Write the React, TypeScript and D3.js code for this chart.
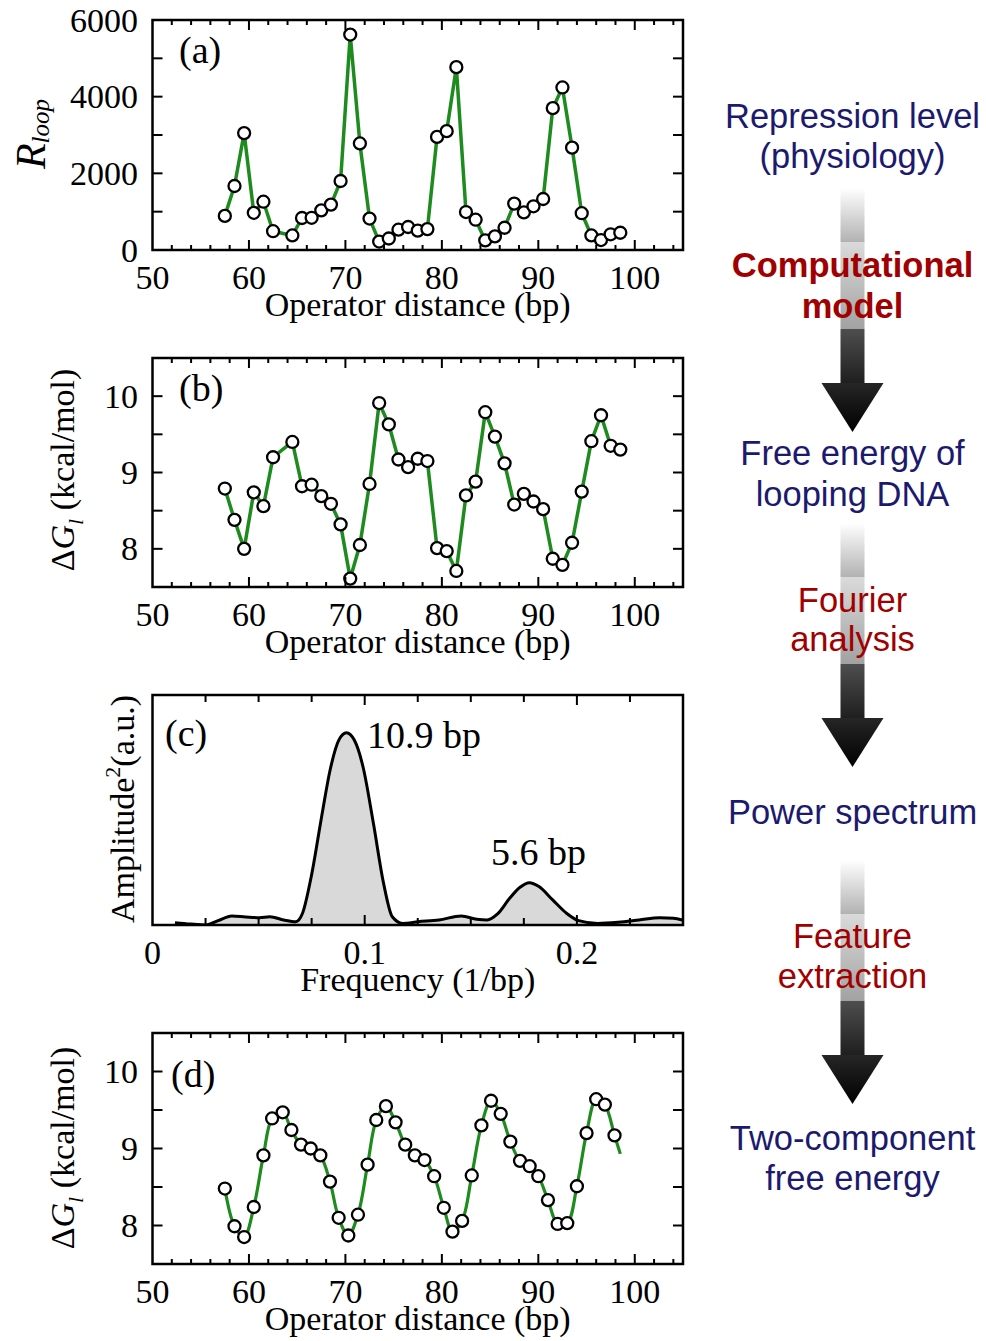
import React, { useEffect, useRef } from "react";
import * as d3 from "d3";

// operator distances (bp) for panels (a) and (b); 63.5 is missing in the data
const distances = [
  57.5, 58.5, 59.5, 60.5, 61.5, 62.5, 64.5, 65.5, 66.5, 67.5, 68.5, 69.5, 70.5, 71.5,
  72.5, 73.5, 74.5, 75.5, 76.5, 77.5, 78.5, 79.5, 80.5, 81.5, 82.5, 83.5, 84.5, 85.5,
  86.5, 87.5, 88.5, 89.5, 90.5, 91.5, 92.5, 93.5, 94.5, 95.5, 96.5, 97.5, 98.5,
];

// (a) repression level
const rLoop = [
  890, 1670, 3050, 970, 1260, 490, 380, 835, 840, 1035, 1185, 1800, 5620, 2780,
  820, 220, 300, 530, 600, 505, 545, 2950, 3100, 4770, 990, 790, 250, 355,
  580, 1210, 980, 1140, 1330, 3700, 4240, 2670, 960, 380, 260, 410, 450,
];

// (b) free energy of looping, kcal/mol
const dGloop = [
  8.79, 8.38, 8.0, 8.74, 8.56, 9.2, 9.4, 8.82, 8.84, 8.69, 8.59, 8.32, 7.61, 8.05,
  8.85, 9.91, 9.63, 9.17, 9.07, 9.18, 9.15, 8.01, 7.97, 7.71, 8.7, 8.88, 9.79, 9.47,
  9.12, 8.58, 8.72, 8.62, 8.52, 7.87, 7.79, 8.08, 8.75, 9.41, 9.75, 9.35, 9.3,
];

// (c) power spectrum
const freq = [
  0.0106, 0.0179, 0.0252, 0.0309, 0.0374, 0.0439, 0.0504, 0.0553, 0.0618, 0.0675,
  0.0707, 0.0748, 0.0797, 0.0837, 0.0878, 0.0914, 0.0951, 0.0992, 0.1041, 0.1089,
  0.113, 0.1179, 0.1252, 0.135, 0.1455, 0.1528, 0.1577, 0.1626, 0.1683, 0.1732,
  0.1776, 0.1821, 0.1886, 0.1951, 0.2008, 0.2098, 0.2195, 0.2293, 0.239, 0.2455, 0.2496,
];
const power = [
  0.01, 0.004, 0.0, 0.019, 0.039, 0.035, 0.032, 0.036, 0.022, 0.014,
  0.051, 0.21, 0.471, 0.674, 0.804, 0.836, 0.804, 0.688, 0.442, 0.181,
  0.036, 0.007, 0.014, 0.022, 0.039, 0.025, 0.022, 0.048, 0.116, 0.164,
  0.184, 0.167, 0.109, 0.051, 0.019, 0.007, 0.012, 0.022, 0.032, 0.029, 0.022,
];

// (d) two-component free energy
const fitDist = [
  57.5, 58.5, 59.5, 60.5, 61.5, 62.4, 63.5, 64.4, 65.4, 66.4, 67.4, 68.4, 69.3, 70.3,
  71.3, 72.3, 73.2, 74.2, 75.2, 76.2, 77.2, 78.2, 79.2, 80.2, 81.1, 82.1, 83.1, 84.1,
  85.1, 86.1, 87.1, 88.1, 89.1, 90.0, 91.0, 92.0, 93.0, 94.0, 95.0, 96.0, 96.9, 97.9,
];
const dGfit = [
  8.48, 7.99, 7.85, 8.24, 8.91, 9.39, 9.47, 9.24, 9.05, 9.0, 8.91, 8.57, 8.1, 7.87,
  8.14, 8.79, 9.37, 9.55, 9.34, 9.05, 8.91, 8.85, 8.64, 8.23, 7.92, 8.06, 8.65, 9.3,
  9.62, 9.45, 9.09, 8.84, 8.77, 8.64, 8.33, 8.02, 8.03, 8.51, 9.2, 9.64, 9.57, 9.17,
];
const fitTailDist = 98.5;
const fitTailValue = 8.93;

const distTicks = [50, 60, 70, 80, 90, 100];
const rLoopTicks = [0, 2000, 4000, 6000];
const dGTicks = [8, 9, 10];
const freqTicks = [0, 0.1, 0.2];

const SERIF = "'Liberation Serif', 'Times New Roman', serif";
const SANS = "'Liberation Sans', Arial, sans-serif";
const GREEN = "#1e8b1e";
const NAVY = "#1c1a6e";
const DARKRED = "#a00000";

const L = 152.5;
const R = 683;

export default function App() {
  const svgRef = useRef<SVGSVGElement>(null);

  useEffect(() => {
    const svg = d3.select(svgRef.current);
    svg.selectAll("*").remove();

    const defs = svg.append("defs");

    // frame + inward ticks on all four sides
    const drawFrame = (top, bottom, x, y, xt, yt) => {
      const g = svg.append("g");
      xt.forEach(([v, len]) => {
        g.append("line").attr("x1", x(v)).attr("x2", x(v)).attr("y1", bottom).attr("y2", bottom - len)
          .attr("stroke", "#000").attr("stroke-width", 2);
        g.append("line").attr("x1", x(v)).attr("x2", x(v)).attr("y1", top).attr("y2", top + len)
          .attr("stroke", "#000").attr("stroke-width", 2);
      });
      yt.forEach(([v, len]) => {
        g.append("line").attr("x1", L).attr("x2", L + len).attr("y1", y(v)).attr("y2", y(v))
          .attr("stroke", "#000").attr("stroke-width", 2);
        g.append("line").attr("x1", R).attr("x2", R - len).attr("y1", y(v)).attr("y2", y(v))
          .attr("stroke", "#000").attr("stroke-width", 2);
      });
      g.append("rect").attr("x", L).attr("y", top).attr("width", R - L).attr("height", bottom - top)
        .attr("fill", "none").attr("stroke", "#000").attr("stroke-width", 2.5);
    };

    const xLabels = (bottom, x, ticks, fmt, title) => {
      ticks.forEach((t) => {
        svg.append("text").attr("x", x(t)).attr("y", bottom + 38.5).attr("text-anchor", "middle")
          .attr("font-family", SERIF).attr("font-size", 34).text(fmt(t));
      });
      svg.append("text").attr("x", (L + R) / 2).attr("y", bottom + 66).attr("text-anchor", "middle")
        .attr("font-family", SERIF).attr("font-size", 34).text(title);
    };

    const yLabels = (y, ticks) => {
      ticks.forEach((t) => {
        svg.append("text").attr("x", 138).attr("y", y(t) + 11.5).attr("text-anchor", "end")
          .attr("font-family", SERIF).attr("font-size", 34).text(t);
      });
    };

    const panelTag = (x, yb, s) => {
      svg.append("text").attr("x", x).attr("y", yb).attr("font-family", SERIF).attr("font-size", 38).text(s);
    };

    const distTickSet = d3.range(52, 105, 2).map((v) => [v, v % 10 === 0 ? 10 : 5]);

    const dots = (x, y, xs, ys) => {
      svg.append("g").selectAll("circle").data(xs).enter().append("circle")
        .attr("cx", (d) => x(d)).attr("cy", (d, i) => y(ys[i])).attr("r", 6)
        .attr("fill", "#fff").attr("stroke", "#000").attr("stroke-width", 2.3);
    };

    // ---------- (a) ----------
    {
      const top = 20, bottom = 250;
      const x = d3.scaleLinear().domain([50, 105]).range([L, R]);
      const y = d3.scaleLinear().domain([0, 6000]).range([bottom, top]);
      const line = d3.line().x((d) => x(d[0])).y((d) => y(d[1]));
      svg.append("path").attr("d", line(distances.map((d, i) => [d, rLoop[i]])))
        .attr("fill", "none").attr("stroke", GREEN).attr("stroke-width", 3.5).attr("stroke-linejoin", "round");
      dots(x, y, distances, rLoop);
      drawFrame(top, bottom, x, y, distTickSet, d3.range(1000, 6000, 1000).map((v) => [v, 10]));
      xLabels(bottom, x, distTicks, (d) => d, "Operator distance (bp)");
      yLabels(y, rLoopTicks);
      panelTag(179, 63, "(a)");
      const t = svg.append("text").attr("transform", "translate(45,134) rotate(-90)")
        .attr("text-anchor", "middle").attr("font-family", SERIF).attr("font-style", "italic");
      t.append("tspan").attr("font-size", 42).text("R");
      t.append("tspan").attr("font-size", 25).attr("dy", 4).text("loop");
    }

    const dGLabel = (cy) => {
      const t = svg.append("text").attr("transform", `translate(74,${cy}) rotate(-90)`)
        .attr("text-anchor", "middle").attr("font-family", SERIF).attr("font-size", 34);
      t.append("tspan").text("Δ");
      t.append("tspan").attr("font-style", "italic").text("G");
      t.append("tspan").attr("font-style", "italic").attr("font-size", 22).attr("dy", 9).text("l");
      t.append("tspan").attr("dy", -9).text(" (kcal/mol)");
    };

    // ---------- (b) ----------
    {
      const top = 358, bottom = 587;
      const x = d3.scaleLinear().domain([50, 105]).range([L, R]);
      const y = d3.scaleLinear().domain([7.5, 10.5]).range([bottom, top]);
      const line = d3.line().x((d) => x(d[0])).y((d) => y(d[1]));
      svg.append("path").attr("d", line(distances.map((d, i) => [d, dGloop[i]])))
        .attr("fill", "none").attr("stroke", GREEN).attr("stroke-width", 3.5).attr("stroke-linejoin", "round");
      dots(x, y, distances, dGloop);
      drawFrame(top, bottom, x, y, distTickSet, d3.range(8, 10.5, 0.5).map((v) => [v, 10]));
      xLabels(bottom, x, distTicks, (d) => d, "Operator distance (bp)");
      yLabels(y, dGTicks);
      panelTag(179, 401, "(b)");
      dGLabel(470);
    }

    // ---------- (c) ----------
    {
      const top = 695, bottom = 925;
      const x = d3.scaleLinear().domain([0, 0.25]).range([L, R]);
      const y = d3.scaleLinear().domain([0, 1]).range([bottom, top]);
      const pts = freq.map((f, i) => [f, power[i]]);
      defs.append("clipPath").attr("id", "clipC").append("rect")
        .attr("x", L).attr("y", top).attr("width", R - L).attr("height", bottom - top);
      const area = d3.area().x((d) => x(d[0])).y0(y(0)).y1((d) => y(d[1])).curve(d3.curveMonotoneX);
      const line = d3.line().x((d) => x(d[0])).y((d) => y(d[1])).curve(d3.curveMonotoneX);
      const g = svg.append("g").attr("clip-path", "url(#clipC)");
      g.append("path").attr("d", area(pts)).attr("fill", "#d9d9d9");
      g.append("path").attr("d", line(pts)).attr("fill", "none").attr("stroke", "#000").attr("stroke-width", 3);
      drawFrame(top, bottom, x, y, d3.range(0.025, 0.25, 0.025).map((v) => [v, Math.abs(v - 0.1) < 1e-6 || Math.abs(v - 0.2) < 1e-6 ? 10 : 7]), []);
      xLabels(bottom, x, freqTicks, (d) => (d === 0 ? "0" : d3.format(".1f")(d)), "Frequency (1/bp)");
      panelTag(165, 746, "(c)");
      svg.append("text").attr("x", 367).attr("y", 748).attr("font-family", SERIF).attr("font-size", 38).text("10.9 bp");
      svg.append("text").attr("x", 491).attr("y", 865).attr("font-family", SERIF).attr("font-size", 38).text("5.6 bp");
      const t = svg.append("text").attr("transform", "translate(134,809) rotate(-90)")
        .attr("text-anchor", "middle").attr("font-family", SERIF).attr("font-size", 34);
      t.append("tspan").text("Amplitude");
      t.append("tspan").attr("font-size", 22).attr("dy", -14).text("2");
      t.append("tspan").attr("dy", 14).text("(a.u.)");
    }

    // ---------- (d) ----------
    {
      const top = 1033, bottom = 1264;
      const x = d3.scaleLinear().domain([50, 105]).range([L, R]);
      const y = d3.scaleLinear().domain([7.5, 10.5]).range([bottom, top]);
      const pts = fitDist.map((d, i) => [d, dGfit[i]]).concat([[fitTailDist, fitTailValue]]);
      const line = d3.line().x((d) => x(d[0])).y((d) => y(d[1])).curve(d3.curveCatmullRom);
      svg.append("path").attr("d", line(pts))
        .attr("fill", "none").attr("stroke", GREEN).attr("stroke-width", 3.2);
      dots(x, y, fitDist, dGfit);
      drawFrame(top, bottom, x, y, distTickSet, d3.range(8, 10.5, 0.5).map((v) => [v, 10]));
      xLabels(bottom, x, distTicks, (d) => d, "Operator distance (bp)");
      yLabels(y, dGTicks);
      panelTag(171, 1087, "(d)");
      dGLabel(1148);
    }

    // ---------- right-hand flow ----------
    const CX = 852.5;
    const grad = (id, c0, c1) => {
      const lg = defs.append("linearGradient").attr("id", id).attr("x1", 0).attr("y1", 0).attr("x2", 0).attr("y2", 1);
      lg.append("stop").attr("offset", 0).attr("stop-color", c0);
      lg.append("stop").attr("offset", 1).attr("stop-color", c1);
    };
    grad("gA", "#ffffff", "#b2b2b2");
    grad("gB", "#dadada", "#a2a2a2");
    grad("gC", "#4e4e4e", "#1e1e1e");
    grad("gH", "#262626", "#000000");

    const arrowTops = [188, 523, 860];
    arrowTops.forEach((a) => {
      const g = svg.append("g");
      g.append("rect").attr("x", CX - 12).attr("y", a).attr("width", 24).attr("height", 54).attr("fill", "url(#gA)");
      g.append("rect").attr("x", CX - 12).attr("y", a + 54).attr("width", 24).attr("height", 87).attr("fill", "url(#gB)");
      g.append("rect").attr("x", CX - 12).attr("y", a + 141).attr("width", 24).attr("height", 55).attr("fill", "url(#gC)");
      g.append("path")
        .attr("d", `M${CX - 31},${a + 195} L${CX + 31},${a + 195} L${CX},${a + 244} Z`)
        .attr("fill", "url(#gH)");
    });

    const flowText = [
      { t: "Repression level", y: 128, c: NAVY, b: false },
      { t: "(physiology)", y: 168, c: NAVY, b: false },
      { t: "Computational", y: 277, c: DARKRED, b: true },
      { t: "model", y: 318, c: DARKRED, b: true },
      { t: "Free energy of", y: 465, c: NAVY, b: false },
      { t: "looping DNA", y: 506, c: NAVY, b: false },
      { t: "Fourier", y: 612, c: DARKRED, b: false },
      { t: "analysis", y: 651, c: DARKRED, b: false },
      { t: "Power spectrum", y: 824, c: NAVY, b: false },
      { t: "Feature", y: 948, c: DARKRED, b: false },
      { t: "extraction", y: 988, c: DARKRED, b: false },
      { t: "Two-component", y: 1150, c: NAVY, b: false },
      { t: "free energy", y: 1190, c: NAVY, b: false },
    ];
    flowText.forEach((d) => {
      svg.append("text").attr("x", CX).attr("y", d.y).attr("text-anchor", "middle")
        .attr("font-family", SANS).attr("font-size", 34.5).attr("font-weight", d.b ? "bold" : "normal")
        .attr("fill", d.c).text(d.t);
    });
  }, []);

  return (
    <svg
      ref={svgRef}
      width={986}
      height={1341}
      style={{ position: "absolute", left: 0, top: 0, background: "#fff" }}
    />
  );
}
